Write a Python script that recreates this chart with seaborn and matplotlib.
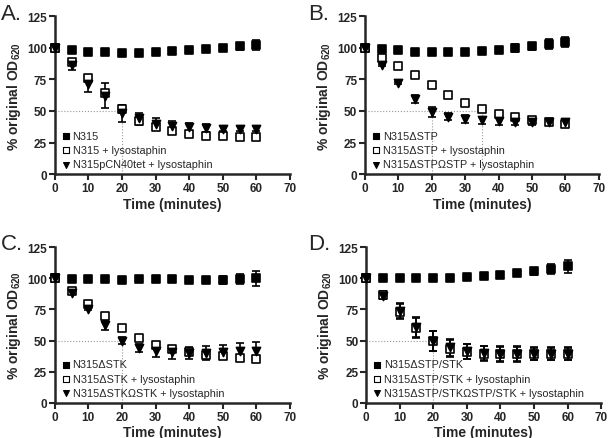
import numpy as np
import pandas as pd
import matplotlib
matplotlib.use("Agg")
import matplotlib.pyplot as plt
import seaborn as sns

# time points (minutes)
time = [0, 5, 10, 15, 20, 25, 30, 35, 40, 45, 50, 55, 60]

# Panel A
a_labels = ["N315", "N315 + lysostaphin", "N315pCN40tet + lysostaphin"]
a_ctrl = [100, 98, 97, 96.5, 96, 96, 97, 97.5, 98.5, 99, 100, 101, 102.5]
a_ctrl_err = [0, 1, 1, 1, 1, 1, 1, 1, 1, 1.5, 2.5, 3, 4]
a_lyso = [100, 88.5, 76, 64, 51.5, 42, 37.5, 34.5, 32, 30.5, 30, 29.5, 29.5]
a_lyso_err = [0, 2, 2, 2, 3, 3, 2, 2, 2, 1.5, 1.5, 1.5, 1.5]
a_comp = [100, 86.5, 71.5, 62, 48, 44.5, 40, 38, 37, 36.5, 36, 36, 36]
a_comp_err = [0, 4.5, 6.5, 10, 6.5, 4, 4.5, 4, 3.5, 3, 2, 2, 2]
a_guides = [20]

# Panel B
b_labels = ["N315ΔSTP", "N315ΔSTP + lysostaphin", "N315ΔSTPΩSTP + lysostaphin"]
b_ctrl = [100, 99, 98, 97, 96.5, 97, 97, 97.5, 98.5, 100, 101, 103, 104.5]
b_ctrl_err = [0, 1, 1, 1, 1, 1, 1, 1, 1.5, 3, 3, 4, 4]
b_lyso = [100, 92, 85.5, 78.5, 70.5, 62.5, 56.5, 51.5, 47.5, 45, 43, 41.5, 40]
b_lyso_err = [0, 1, 1, 1, 1, 1, 1, 1, 1, 1, 1.5, 1.5, 2]
b_comp = [100, 86.5, 72, 59.5, 49.5, 45.5, 43.5, 42.5, 42, 41.5, 41.5, 41.5, 41.5]
b_comp_err = [0, 1, 1, 3, 4, 3, 3, 3, 3, 3, 3, 2, 2]
b_guides = [20, 35]

# Panel C
c_labels = ["N315ΔSTK", "N315ΔSTK + lysostaphin", "N315ΔSTKΩSTK + lysostaphin"]
c_ctrl = [100, 99.5, 99.5, 99, 98.5, 99, 99, 99, 98.5, 98.5, 98.5, 99, 100]
c_ctrl_err = [0, 1, 1, 1, 1, 1, 1, 1, 1, 1, 3, 4, 6]
c_lyso = [100, 90, 79.5, 69.5, 60, 52, 46.5, 43.5, 41, 38.5, 37.5, 36, 35]
c_lyso_err = [0, 1, 1, 1, 1, 1, 1, 1.5, 2, 2.5, 2.5, 2.5, 2.5]
c_comp = [100, 88.5, 75.5, 62.5, 50, 44, 41.5, 40.5, 40, 40, 41, 41.5, 41.5]
c_comp_err = [0, 1, 1, 4, 3, 3, 5, 5, 5, 5.5, 5.5, 6.5, 7.5]
c_guides = [20]

# Panel D
d_labels = ["N315ΔSTP/STK", "N315ΔSTP/STK + lysostaphin",
            "N315ΔSTP/STKΩSTP/STK + lysostaphin"]
d_ctrl = [100, 100, 100, 100, 100, 100.5, 101, 102, 102.5, 104, 105.5, 107.5, 109.5]
d_ctrl_err = [0, 1, 1, 1, 1, 1, 1, 1, 1, 1, 3, 4, 5]
d_lyso = [100, 86.5, 73, 60, 49.5, 43.5, 41, 39.5, 39, 39, 39, 39, 39]
d_lyso_err = [0, 3, 6, 8, 8, 7, 6, 6, 6, 6, 5, 5, 5]
d_comp = [100, 86, 74, 61, 50, 44.5, 41.5, 40, 39.5, 39.5, 39.5, 39.5, 39.5]
d_comp_err = [0, 3, 6, 8, 8, 7, 6, 6, 6, 6, 5, 5, 5]
d_guides = [20]

panels = [
    ("A.", a_labels, [a_ctrl, a_lyso, a_comp], [a_ctrl_err, a_lyso_err, a_comp_err], a_guides),
    ("B.", b_labels, [b_ctrl, b_lyso, b_comp], [b_ctrl_err, b_lyso_err, b_comp_err], b_guides),
    ("C.", c_labels, [c_ctrl, c_lyso, c_comp], [c_ctrl_err, c_lyso_err, c_comp_err], c_guides),
    ("D.", d_labels, [d_ctrl, d_lyso, d_comp], [d_ctrl_err, d_lyso_err, d_comp_err], d_guides),
]

# axes boxes in figure fractions [left, bottom, width, height]
boxes = [
    [0.090, 0.601, 0.387, 0.360],
    [0.600, 0.601, 0.385, 0.360],
    [0.090, 0.080, 0.387, 0.355],
    [0.602, 0.080, 0.387, 0.355],
]
# panel letter anchors (figure fractions, left / centre)
letter_pos = [(0.002, 0.968), (0.507, 0.968), (0.002, 0.442), (0.507, 0.442)]

sns.set_style("ticks")
plt.rcParams['font.family'] = ['Liberation Sans', 'DejaVu Sans']
plt.rcParams['mathtext.default'] = 'regular'

fig = plt.figure(figsize=(6.08, 4.39), dpi=100)

styles = [
    dict(marker="s", facecolor="black", edgecolor="black"),
    dict(marker="s", facecolor="white", edgecolor="black"),
    dict(marker="v", facecolor="black", edgecolor="black"),
]
sizes = [26, 30, 34]

for (letter, labels, series, errs, guides), box, lp in zip(panels, boxes, letter_pos):
    ax = fig.add_axes(box)

    # dotted guide lines for half-lysis time
    for g in guides:
        ax.plot([g, g], [0, 50], ls=":", color="#999999", lw=0.8, zorder=1)
    ax.plot([0, max(guides)], [50, 50], ls=":", color="#999999", lw=0.8, zorder=1)

    order = [0, 2, 1]
    for i in order:
        y = series[i]
        e = errs[i]
        ax.errorbar(time, y, yerr=e, fmt="none", ecolor="black",
                    elinewidth=1.2, capsize=3, capthick=1.2, zorder=2 + i)
        df = pd.DataFrame({"time": time, "value": y})
        sns.scatterplot(data=df, x="time", y="value", ax=ax,
                        marker=styles[i]["marker"], s=sizes[i],
                        color=styles[i]["facecolor"],
                        edgecolor=styles[i]["edgecolor"],
                        linewidth=1.2, label=labels[i], zorder=3 + i,
                        clip_on=False)

    ax.set_xlim(0, 70)
    ax.set_ylim(0, 125)
    ax.set_xticks(range(0, 71, 10))
    ax.set_yticks(range(0, 126, 25))
    for lbl in ax.get_xticklabels() + ax.get_yticklabels():
        lbl.set_fontweight("bold")
        lbl.set_fontsize(8.5)
    ax.tick_params(width=1.5, length=4, pad=1.5)
    for sp in ["left", "bottom"]:
        ax.spines[sp].set_linewidth(1.8)
    sns.despine(ax=ax)

    ax.set_xlabel("Time (minutes)", fontsize=10, fontweight="bold", labelpad=2)
    ax.set_ylabel("% original OD$_{620}$", fontsize=10, fontweight="bold", labelpad=3)

    handles, hl = ax.get_legend_handles_labels()
    lookup = dict(zip(hl, handles))
    leg = ax.legend([lookup[l] for l in labels], labels, loc="lower left",
                    bbox_to_anchor=(0.0, -0.01), frameon=False, fontsize=7.8,
                    handletextpad=0.25, labelspacing=0.4, borderaxespad=0.2,
                    handlelength=0.8, handleheight=0.6)
    for h in leg.legend_handles:
        h.set_sizes([18])
        h.set_linewidth(0.8)

    fig.text(lp[0], lp[1], letter, fontsize=16, ha="left", va="center")

fig.savefig("out.png", dpi=100)
